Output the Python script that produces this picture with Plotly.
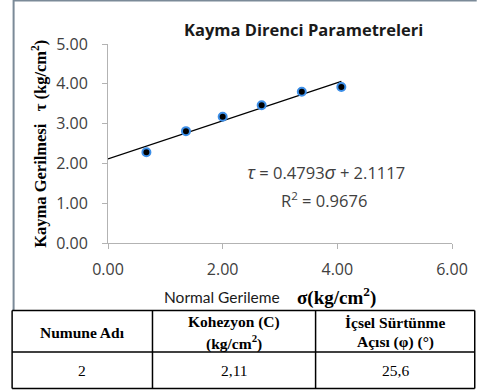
import plotly.graph_objects as go

# Direct shear test results
sigma = [0.67, 1.36, 2.00, 2.68, 3.38, 4.07]   # normal stress (kg/cm2)
tau = [2.28, 2.81, 3.17, 3.46, 3.80, 3.92]     # shear stress (kg/cm2)

slope = 0.4793
intercept = 2.1117
r_squared = 0.9676

x_ticks = [0, 2, 4, 6]
y_ticks = [0, 1, 2, 3, 4, 5]

table_header = [
    ["Numune Adı"],
    ["Kohezyon (C)", "(kg/cm<sup>2</sup>)"],
    ["İçsel Sürtünme", "Açısı (φ) (°)"],
]
table_row = ["2", "2,11", "25,6"]

# Canvas geometry (pixels)
W, H = 480, 391
ML, MR, MT, MB = 108, 24, 44, 148
PW, PH = W - ML - MR, H - MT - MB


def px(x):
    return (x - ML) / PW


def py(y):
    return (H - MB - y) / PH


SANS = "Open Sans"
SERIF = "Liberation Serif"
GREY = "#404040"

fig = go.Figure()

# Linear trendline from the origin to the last test point
x_line = [0, max(sigma)]
y_line = [slope * v + intercept for v in x_line]
fig.add_trace(go.Scatter(
    x=x_line, y=y_line, mode="lines",
    line=dict(color="black", width=1.2),
    hoverinfo="skip", showlegend=False,
))

fig.add_trace(go.Scatter(
    x=sigma, y=tau, mode="markers",
    marker=dict(size=8, color="black", line=dict(color="#3d8fe8", width=2)),
    showlegend=False,
))

annotations = []
shapes = []


def label(xp, yp, text, family, size, color="black", angle=0):
    annotations.append(dict(
        x=px(xp), y=py(yp), xref="paper", yref="paper",
        text=text, showarrow=False, textangle=angle,
        font=dict(family=family, size=size, color=color),
        xanchor="center", yanchor="middle", align="center",
    ))


# Chart title
label(306, 30, "<b>Kayma Direnci Parametreleri</b>", SANS, 16.5, "#1a1a1a")

# Regression equation and coefficient of determination
label(329, 172,
      f"<span style='font-size:19px'><i>τ</i></span> = {slope:.4f}"
      f"<span style='font-size:19px'><i>σ</i></span> + {intercept:.4f}",
      SANS, 16.5, GREY)
label(327, 200, f"R<sup>2</sup> = {r_squared:.4f}", SANS, 16.5, GREY)

# Axis titles
label(38, 144, "<b>Kayma Gerilmesi   τ (kg/cm<sup>2</sup>)</b>", SERIF, 16.5, angle=-90)
label(223, 297, "Normal Gerileme", "Lato", 15.5, "#1a1a1a")
label(339, 296, "<b>σ(kg/cm<sup>2</sup>)</b>", SERIF, 19)

# Chart frame (top and left edges)
frame = "#7b8a98"
shapes.append(dict(type="line", xref="paper", yref="paper",
                   x0=px(12), x1=px(481), y0=py(0.5), y1=py(0.5),
                   line=dict(color=frame, width=2)))
shapes.append(dict(type="line", xref="paper", yref="paper",
                   x0=px(12.5), x1=px(12.5), y0=py(0), y1=py(311),
                   line=dict(color=frame, width=2)))

# Summary table
col_edges = [11, 153, 318, 479]
row_edges = [310.5, 352, 388.5]
for xe in col_edges:
    shapes.append(dict(type="line", xref="paper", yref="paper",
                       x0=px(xe), x1=px(xe), y0=py(row_edges[0]), y1=py(row_edges[-1]),
                       line=dict(color="black", width=1.5)))
for ye in row_edges:
    shapes.append(dict(type="line", xref="paper", yref="paper",
                       x0=px(col_edges[0]), x1=px(col_edges[-1]), y0=py(ye), y1=py(ye),
                       line=dict(color="black", width=1.5)))

header_mid = (row_edges[0] + row_edges[1]) / 2 + 1
for i in range(3):
    cx = (col_edges[i] + col_edges[i + 1]) / 2
    lines = table_header[i]
    n = len(lines)
    for k, line_text in enumerate(lines):
        yk = header_mid + (k - (n - 1) / 2) * 20
        label(cx, yk, f"<b>{line_text}</b>", SERIF, 15.5)
    label(cx, (row_edges[1] + row_edges[2]) / 2, table_row[i], SERIF, 15.5)

axis_common = dict(
    showline=True, linecolor="#b3b3b3", linewidth=1,
    ticks="outside", ticklen=5, tickcolor="#b3b3b3",
    showgrid=False, zeroline=False,
    tickfont=dict(family=SANS, size=16, color=GREY),
    tickformat=".2f",
)

fig.update_layout(
    width=W, height=H,
    margin=dict(l=ML, r=MR, t=MT, b=MB),
    paper_bgcolor="white", plot_bgcolor="white",
    xaxis=dict(range=[0, 6], tickvals=x_ticks, ticklabelstandoff=7, **axis_common),
    yaxis=dict(range=[0, 5], tickvals=y_ticks, ticklabelstandoff=11, **axis_common),
    annotations=annotations, shapes=shapes,
    showlegend=False,
)

fig.write_html("out.html")
